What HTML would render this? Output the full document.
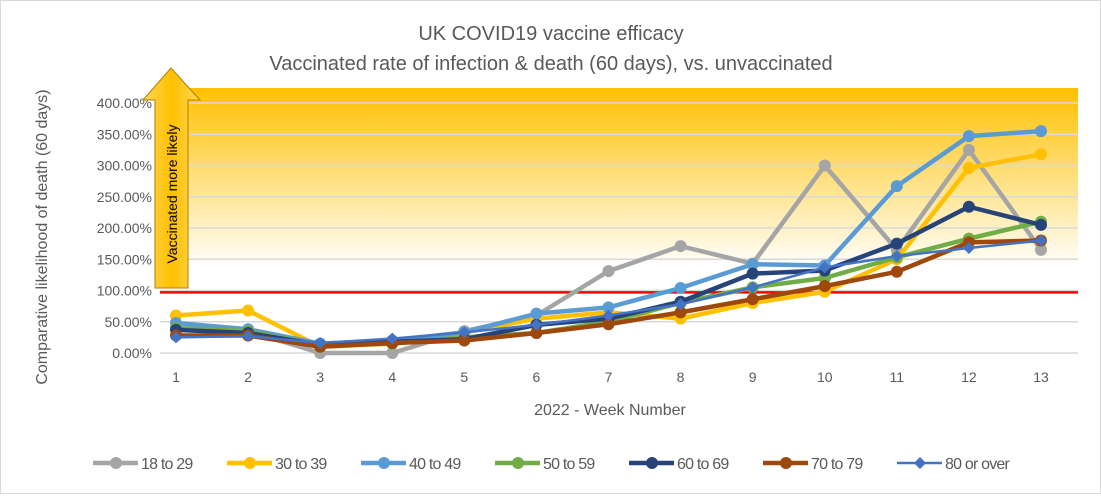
<!DOCTYPE html>
<html><head><meta charset="utf-8"><style>
body{margin:0;background:#fff;}
svg{font-family:"Liberation Sans",sans-serif;}
</style></head><body>
<svg width="1101" height="494" viewBox="0 0 1101 494" xmlns="http://www.w3.org/2000/svg">
<defs>
<linearGradient id="band" x1="0" y1="0" x2="0" y2="1">
<stop offset="0" stop-color="#ffc000"/><stop offset="1" stop-color="#fffdf5"/>
</linearGradient>
<linearGradient id="arr" x1="0" y1="0" x2="1" y2="0">
<stop offset="0" stop-color="#ffd75a"/><stop offset="0.5" stop-color="#ffc000"/><stop offset="1" stop-color="#ffd75a"/>
</linearGradient>
</defs>
<rect x="0.5" y="0.5" width="1100" height="493" fill="#fff" stroke="#d9d9d9"/>
<text x="551" y="40" font-size="20" fill="#595959" text-anchor="middle">UK COVID19 vaccine efficacy</text>
<text x="551" y="70" font-size="20" fill="#595959" text-anchor="middle">Vaccinated rate of infection &amp; death (60 days), vs. unvaccinated</text>
<rect x="160" y="88" width="918" height="173" fill="url(#band)"/>
<g id="grid"></g>
<g id="yt"></g>
<g id="xt"></g>
<text x="610" y="415" font-size="16" fill="#595959" text-anchor="middle">2022 - Week Number</text>
<text transform="translate(47,237) rotate(-90)" font-size="16" fill="#595959" text-anchor="middle">Comparative likelihood of death (60 days)</text>
<g id="ref"></g>
<g id="series"></g>
<g>
<polygon points="171,68 143,100 155,100 155,288 188,288 188,100 200,100" fill="url(#arr)" stroke="#b08000" stroke-width="1"/>
<text transform="translate(177,194) rotate(-90)" font-size="14" fill="#000" text-anchor="middle">Vaccinated more likely</text>
</g>
<g id="legend"></g>
</svg>
<script>
const weeks=[1,2,3,4,5,6,7,8,9,10,11,12,13];
const yTicks=[0,50,100,150,200,250,300,350,400];
const seriesNames=["18 to 29","30 to 39","40 to 49","50 to 59","60 to 69","70 to 79","80 or over"];
const s18=[40,35,0,0,35,60,131,171,143,300,165,325,165];
const s30=[60,68,10,15,33,55,65,55,80,98,150,296,318];
const s40=[48,38,15,20,33,63,73,104,142,140,267,347,355];
const s50=[40,35,12,15,25,32,50,80,105,120,153,183,210];
const s60=[37,32,13,18,22,45,55,82,127,132,175,234,205];
const s70=[28,28,10,16,20,32,46,65,86,107,130,177,180];
const s80=[25,27,16,23,33,45,60,78,105,137,155,168,180];
const refLine=97;
const colors=["#a5a5a5","#ffc000","#5b9bd5","#70ad47","#264478","#9e480e","#4472c4"];
const all=[s18,s30,s40,s50,s60,s70,s80];
const NS="http://www.w3.org/2000/svg";
const X=w=>176+(w-1)*(1041-176)/12;
const Y=v=>353-v*250/400;
function mk(t,a,p){const e=document.createElementNS(NS,t);for(const k in a)e.setAttribute(k,a[k]);p.appendChild(e);return e;}
const g=document.getElementById('grid'),yt=document.getElementById('yt'),xt=document.getElementById('xt');
yTicks.forEach(v=>{
 const l=mk('line',{x1:160,x2:1078,y1:Y(v),y2:Y(v),stroke:'#d9d9d9','stroke-width':1.5},g);
 
 
 const t=mk('text',{x:152,y:Y(v)+5,'font-size':14,fill:'#595959','text-anchor':'end'},yt);
 t.textContent=v.toFixed(2)+'%';
 
 
});
weeks.forEach(w=>{
 const t=mk('text',{x:X(w),y:382,'font-size':14,fill:'#595959','text-anchor':'middle'},xt);
 t.textContent=w;
 
 
});
const r=mk('line',{x1:160,x2:1078,y1:Y(refLine),y2:Y(refLine),stroke:'#ff0000','stroke-width':2.5},document.getElementById('ref'));


const sg=document.getElementById('series');
all.forEach((d,i)=>{
 const grp=mk('g',{},sg);
 
 
 const last=i==6;
 mk('polyline',{points:d.map((v,j)=>X(weeks[j])+','+Y(v)).join(' '),fill:'none',stroke:colors[i],'stroke-width':last?2.5:4.5,'stroke-linejoin':'round'},grp);
 d.forEach((v,j)=>{
  let m;
  if(last){const x=X(weeks[j]),y=Y(v);m=mk('polygon',{points:`${x},${y-6} ${x+6},${y} ${x},${y+6} ${x-6},${y}`,fill:colors[i]},grp);}
  else m=mk('circle',{cx:X(weeks[j]),cy:Y(v),r:6,fill:colors[i]},grp);
  
  
 });
});
const lg=document.getElementById('legend');
seriesNames.forEach((n,i)=>{
 const e=mk('g',{},lg);
 
 
 const x=93+i*134;
 mk('line',{x1:x,x2:x+45,y1:463,y2:463,stroke:colors[i],'stroke-width':i==6?2.5:4.5},e);
 if(i==6)mk('polygon',{points:`${x+23},457 ${x+29},463 ${x+23},469 ${x+17},463`,fill:colors[i]},e);
 else mk('circle',{cx:x+23,cy:463,r:6,fill:colors[i]},e);
 const t=mk('text',{x:x+48,y:469,'font-size':16,fill:'#595959','letter-spacing':'-0.8'},e);
 t.textContent=n;
});
</script>
</body></html>
